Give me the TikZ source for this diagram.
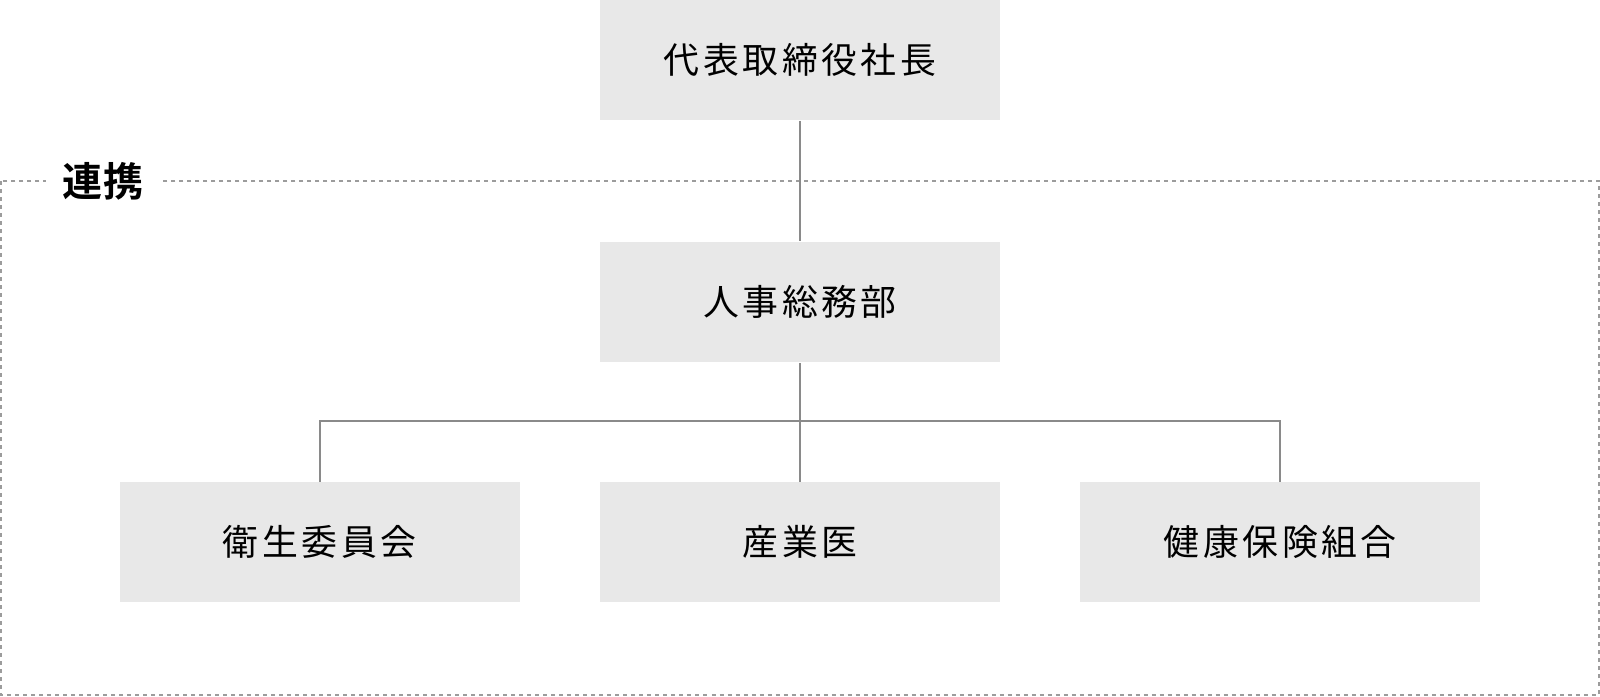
\documentclass[tikz,border=0pt]{standalone}
\usepackage{fontspec}
\newfontfamily\jp[LetterSpace=10]{Noto Sans CJK JP}
\newfontfamily\jpbold[LetterSpace=4]{Noto Sans CJK JP Bold}
\usetikzlibrary{positioning}

\definecolor{boxgray}{HTML}{E8E8E8}
\definecolor{linegray}{HTML}{8A8A8A}
\definecolor{dashgray}{HTML}{9C9C9C}

\begin{document}
\begin{tikzpicture}
    [
    x=0.01cm, y=-0.01cm,
    node distance=2.42cm and 4.8cm,
    on grid,
    every node/.style={inner sep=0pt},
    unit/.style={fill=boxgray, minimum width=4cm, minimum height=1.2cm, font=\jp\fontsize{10.2}{12}\selectfont},
    link/.style={draw=linegray, line width=0.02cm},
    frame/.style={draw=dashgray, line width=0.02cm, dash pattern=on 0.04cm off 0.04cm},
    tag/.style={fill=white, inner xsep=0.16cm, inner ysep=0.05cm, font=\jpbold\fontsize{11.4}{13}\selectfont},
    ]

    \useasboundingbox (0,0) rectangle (1600,696);

    % cooperation frame
    \draw[frame] (1,181) rectangle (1599,695);
    \node[tag] (coop) at (103,181) {連携};

    \node[unit] (president) at (800,60) {代表取締役社長};
    \node[unit, below = of president] (hr) {人事総務部};
    \node[unit, below = 2.4cm of hr] (doctor) {産業医};
    \node[unit, left = of doctor] (committee) {衛生委員会};
    \node[unit, right = of doctor] (union) {健康保険組合};

    \coordinate (bus) at (800,421);

    \draw[link] (president) -- (hr);
    \draw[link] (hr) -- (doctor);
    \draw[link] (committee.north) |- (bus) -| (union.north);
\end{tikzpicture}
\end{document}
